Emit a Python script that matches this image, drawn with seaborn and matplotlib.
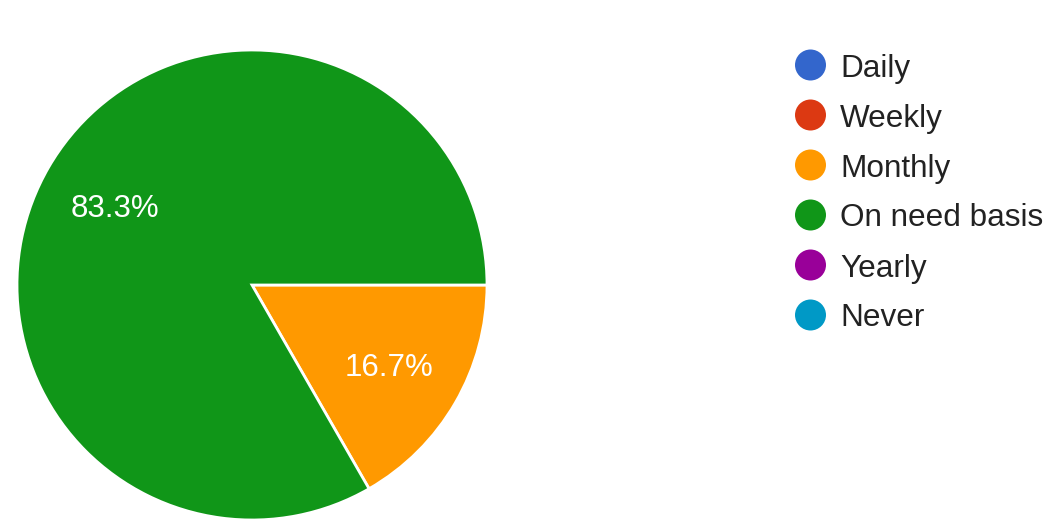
import matplotlib
matplotlib.use("Agg")
import matplotlib.pyplot as plt
import seaborn as sns

categories = ["Daily", "Weekly", "Monthly", "On need basis", "Yearly", "Never"]
values = [0, 0, 16.7, 83.3, 0, 0]
colors = ["#3366cc", "#dc3912", "#ff9900", "#109618", "#990099", "#0099c6"]

sns.set_theme(style="white")
plt.rcParams["font.family"] = ["Liberation Sans", "DejaVu Sans"]

W, H = 1057, 532
fig = plt.figure(figsize=(W / 100, H / 100), dpi=100)
fig.patch.set_facecolor("white")

# pie axes: centre (252, 285) px, radius 235 px
cx, cy, r = 252, 285, 235
ax = fig.add_axes([(cx - r) / W, (H - cy - r) / H, 2 * r / W, 2 * r / H])
pie_vals = [v for v in values if v > 0]
pie_cols = [c for v, c in zip(values, colors) if v > 0]
wedges, texts, autotexts = ax.pie(
    pie_vals, colors=pie_cols, startangle=0, counterclock=False,
    autopct="%.1f%%", pctdistance=0.675,
    wedgeprops=dict(edgecolor="white", linewidth=2),
    textprops=dict(color="white", fontsize=22.5),
)
for t in autotexts:
    t.set_va("center_baseline")
ax.set_xlim(-1, 1)
ax.set_ylim(-1, 1)
ax.set_aspect("equal")
ax.axis("off")

# legend drawn in pixel-coordinate axes
lax = fig.add_axes([0, 0, 1, 1])
lax.set_xlim(0, W)
lax.set_ylim(H, 0)
lax.axis("off")
for i, (cat, col) in enumerate(zip(categories, colors)):
    y = 65 + 50 * i
    lax.scatter([810.5], [y], s=(31 * 0.72) ** 2, color=col, edgecolors="none")
    lax.text(840, y, cat, fontsize=22.7, color="#222222", va="center_baseline", ha="left")

fig.savefig("out.png", dpi=100, facecolor="white")
